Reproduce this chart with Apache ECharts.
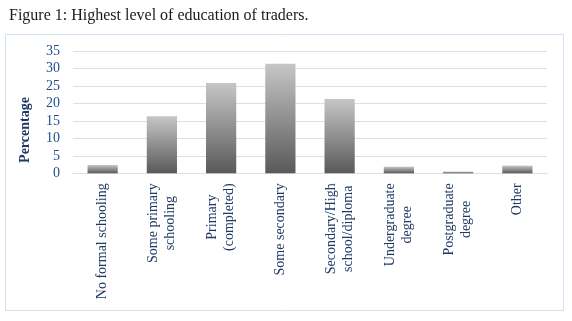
<!DOCTYPE html>
<html>
<head>
<meta charset="utf-8">
<script src="https://cdn.jsdelivr.net/npm/echarts@6/dist/echarts.min.js"></script>
<style>html,body{margin:0;padding:0;background:#fff}#c{width:572px;height:321px}</style>
</head>
<body>
<div id="c"></div>
<script>
const categories = ["No formal schooling", "Some primary\nschooling", "Primary\n(completed)", "Some secondary", "Secondary/High\nschool/diploma", "Undergraduate\ndegree", "Postgraduate\ndegree", "Other"];
const values = [2.4, 16.4, 25.9, 31.4, 21.3, 1.9, 0.5, 2.2];
const yTicks = [0, 5, 10, 15, 20, 25, 30, 35];
const titleText = "Figure 1: Highest level of education of traders.";
const yName = "Percentage";

const serif = "'Liberation Serif', 'DejaVu Serif', serif";
const navy = "#1f3864";
const chart = echarts.init(document.getElementById('c'));
chart.setOption({
  animation: false,
  title: {text: titleText, left: 4, top: 3, textStyle: {fontFamily: serif, fontSize: 16, fontWeight: 'normal', color: '#1a1a1a'}},
  graphic: [
    {type: 'rect', shape: {x: 5.5, y: 34.5, width: 558, height: 276}, style: {fill: 'none', stroke: '#cfe2f3', lineWidth: 1}, z: -1},
    {type: 'text', x: 25, y: 130, rotation: Math.PI / 2, style: {text: yName, font: "bold 14px " + serif, fill: navy, align: 'center', verticalAlign: 'middle'}}
  ],
  grid: {left: 73, right: 25, top: 51.3, bottom: 147.7},
  xAxis: {
    type: 'category', data: categories,
    axisLine: {lineStyle: {color: '#d0e1f0'}},
    axisTick: {show: false},
    axisLabel: {
      interval: 0, rotate: 90, margin: 10,
      formatter: v => v.split('\n').map(s => '{c|' + s + '}').join('\n'),
      rich: {c: {align: 'center', fontFamily: serif, fontSize: 14, color: navy, lineHeight: 17}}
    }
  },
  yAxis: {
    type: 'value', min: yTicks[0], max: yTicks[yTicks.length - 1], interval: 5,
    axisLine: {show: false}, axisTick: {show: false},
    splitLine: {lineStyle: {color: '#d0e1f0'}},
    axisLabel: {fontFamily: serif, fontSize: 14, color: '#1f4e8c', margin: 13}
  },
  series: [{
    type: 'bar', data: values, barWidth: '51%',
    itemStyle: {color: new echarts.graphic.LinearGradient(0, 0, 0, 1, [{offset: 0, color: '#c6c6c6'}, {offset: 1, color: '#595959'}])}
  }]
});
</script>
</body>
</html>
